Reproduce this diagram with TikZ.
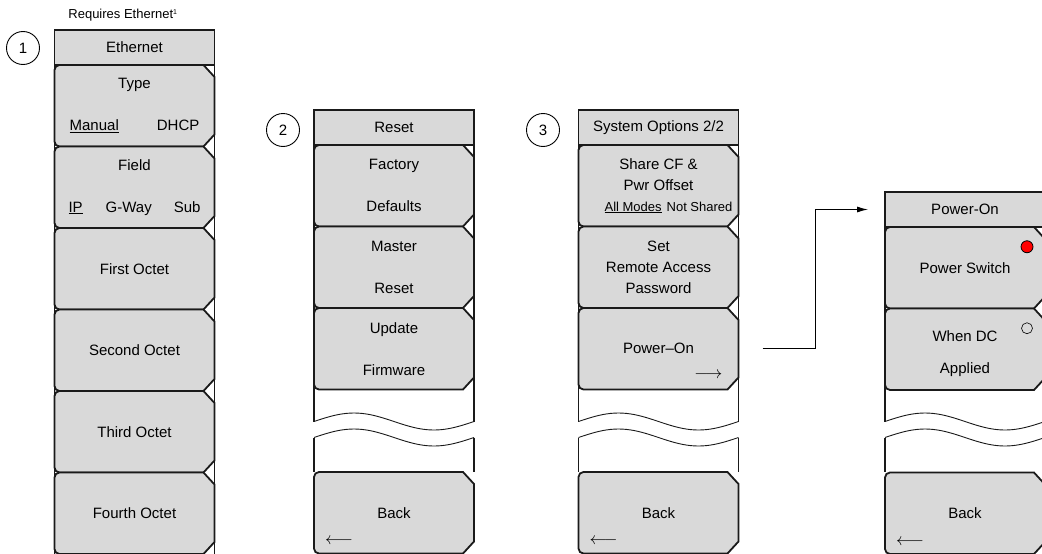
\documentclass[tikz,border=0pt]{standalone}
\usepackage{fontspec}
\setmainfont{Liberation Sans}
\usetikzlibrary{positioning,arrows.meta,calc,backgrounds}
\definecolor{keygray}{HTML}{D9D9D9}
\definecolor{keyline}{HTML}{1A1A1A}
\tikzset{
    every node/.style={font=\fontsize{15}{18}\selectfont},
    menutitle/.style={rectangle,draw=keyline,fill=keygray,line width=1.6pt,minimum width=160pt,minimum height=35pt,inner sep=0pt,outer sep=0pt},
    softkey/.style={rectangle,minimum width=160pt,minimum height=81.5pt,inner sep=0pt,outer sep=0pt,align=center},
    keyshape/.style={draw=keyline,fill=keygray,line width=1.8pt,line join=miter},
    frame/.style={draw=keyline,line width=1.2pt},
    wave/.style={draw=keyline,line width=0.9pt},
    numcircle/.style={circle,draw=black,line width=0.9pt,minimum size=33pt,inner sep=0pt},
    radioon/.style={circle,draw=black,fill=red,line width=0.8pt,minimum size=12pt,inner sep=0pt},
    radiooff/.style={circle,draw=black,line width=0.6pt,minimum size=11pt,inner sep=0pt},
    keyarrow/.style={inner sep=0pt,font=\fontsize{17.5}{20}\selectfont},
    link/.style={draw=black,line width=1pt,-{Latex[length=11pt,width=6pt]}}
}
% outline of a soft key, drawn behind the key node
\newcommand{\keyoutline}[1]{%
  \begin{pgfonlayer}{background}
    \path[keyshape] ($(#1.north east)+(-11,0)$) -- ($(#1.north east)+(0,12)$)
      -- ($(#1.south east)+(0,-12)$) -- ($(#1.south east)+(-11,0)$)
      -- ($(#1.south west)+(5,0)$) arc[start angle=270,end angle=180,radius=5pt]
      -- ($(#1.north west)+(0,5)$) arc[start angle=180,end angle=90,radius=5pt]
      -- cycle;
  \end{pgfonlayer}}

\begin{document}
\begin{tikzpicture}[x=1pt,y=-1pt]
\useasboundingbox (0,0) rectangle (1042,554);

% side rails of the menus
\begin{pgfonlayer}{background}
\draw[frame] (54.5,65) -- (54.5,554) (214.5,65) -- (214.5,554);
\foreach \cx/\ty in {314/145,578.5/145,885/227} {
  \draw[frame] (\cx,\ty) -- (\cx,421.5) (\cx,437.5) -- (\cx,472)
    (\cx+160,\ty) -- (\cx+160,421.5) (\cx+160,437.5) -- (\cx+160,472);
}
\end{pgfonlayer}

% Ethernet menu
\node[numcircle] (num1) at (23,48) {1};
\node[font=\fontsize{13}{15}\selectfont] (ethnote) at (123,15) {Requires Ethernet\textsuperscript{\fontsize{7}{8}\selectfont 1}};
\node[menutitle] (ethtitle) at (134.5,47.5) {Ethernet};
\node[softkey,below=0pt of ethtitle] (ethtype) {Type\\[24pt]\underline{Manual}\hspace{38pt}DHCP};
\node[softkey,below=0pt of ethtype] (ethfield) {Field\\[24pt]\underline{IP}\hspace{23pt}G-Way\hspace{22pt}Sub};
\node[softkey,below=0pt of ethfield] (ethoct1) {First Octet};
\node[softkey,below=0pt of ethoct1] (ethoct2) {Second Octet};
\node[softkey,below=0pt of ethoct2] (ethoct3) {Third Octet};
\node[softkey,below=0pt of ethoct3] (ethoct4) {Fourth Octet};

% Reset menu
\node[numcircle] (num2) at (283,130) {2};
\node[menutitle] (rsttitle) at (394,127.5) {Reset};
\node[softkey,below=0pt of rsttitle] (rstfactory) {Factory\\[24pt]Defaults};
\node[softkey,below=0pt of rstfactory] (rstmaster) {Master\\[24pt]Reset};
\node[softkey,below=0pt of rstmaster] (rstupdate) {Update\\[24pt]Firmware};
\node[softkey,below=82.5pt of rstupdate] (rstback) {Back};
\node[keyarrow,anchor=west] (rstbackarr) at ([shift={(11,-12)}]rstback.south west) {$\longleftarrow$};

% System Options menu
\node[numcircle] (num3) at (543,130) {3};
\node[menutitle] (systitle) at (658.5,127.5) {System Options 2/2};
\node[softkey,below=0pt of systitle] (sysshare) {Share CF \&\\[3pt]Pwr Offset\\[3pt]\hspace*{20pt}{\fontsize{13}{15}\selectfont\underline{All Modes}\hspace{5pt}Not Shared}};
\node[softkey,below=0pt of sysshare] (syspass) {Set\\[3pt]Remote Access\\[3pt]Password};
\node[softkey,below=0pt of syspass] (syspwr) {Power--On};
\node[keyarrow,anchor=east] (syspwrarr) at ([shift={(-16,-14)}]syspwr.south east) {$\longrightarrow$};
\node[softkey,below=82.5pt of syspwr] (sysback) {Back};
\node[keyarrow,anchor=west] (sysbackarr) at ([shift={(11,-12)}]sysback.south west) {$\longleftarrow$};

% Power-On menu
\node[menutitle] (pwrtitle) at (965,209.5) {Power-On};
\node[softkey,below=0pt of pwrtitle] (pwrswitch) {Power Switch};
\node[softkey,below=0pt of pwrswitch] (pwrdc) {\rule{0pt}{20pt}When DC\\[14pt]Applied};
\node[softkey,below=82.5pt of pwrdc] (pwrback) {Back};
\node[keyarrow,anchor=west] (pwrbackarr) at ([shift={(11,-12)}]pwrback.south west) {$\longleftarrow$};
\node[radioon] (pwrswdot) at ([shift={(62,-21)}]pwrswitch.center) {};
\node[radiooff] (pwrdcdot) at ([shift={(62,-21)}]pwrdc.center) {};

\draw[link,shorten <=24pt,shorten >=17pt] (syspwr.east) -- ++(77,0) |- (pwrtitle.west);

\foreach \k in {ethtype,ethfield,ethoct1,ethoct2,ethoct3,ethoct4,
  rstfactory,rstmaster,rstupdate,rstback,
  sysshare,syspass,syspwr,sysback,
  pwrswitch,pwrdc,pwrback} {\keyoutline{\k}}

% breaks in the key stacks
\foreach \cx in {314,578.5,885} {
  \draw[wave] plot[domain=0:1,samples=41,smooth] ({\cx+160*\x},{421.5-8.5*sin(360*\x)});
  \draw[wave] plot[domain=0:1,samples=41,smooth] ({\cx+160*\x},{437.5-8.5*sin(360*\x)});
}
\end{tikzpicture}
\end{document}
